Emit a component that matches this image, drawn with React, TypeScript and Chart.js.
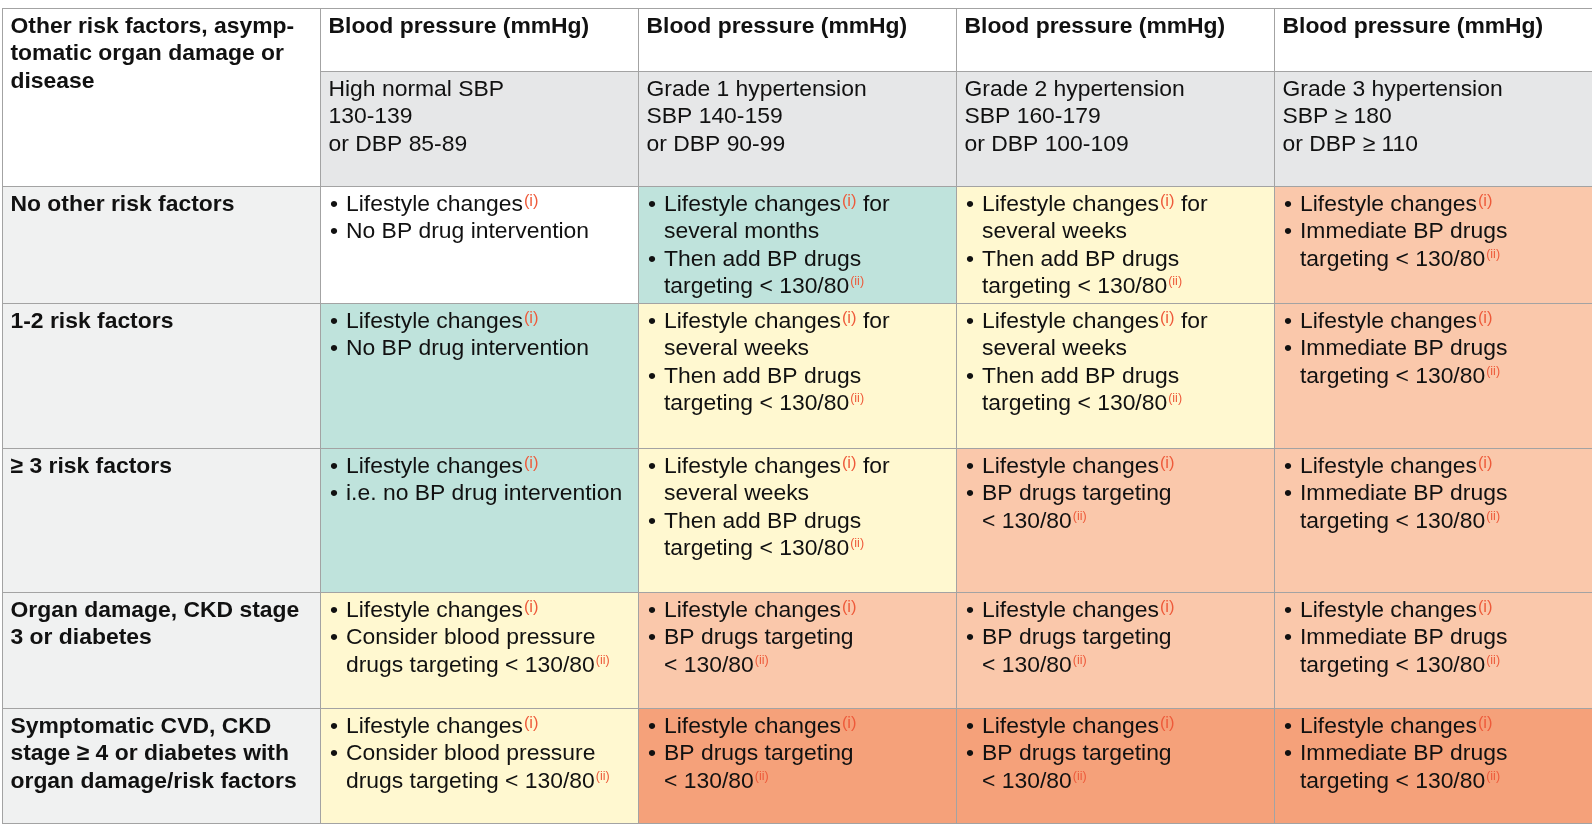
import { useEffect, useRef } from "react";
import { Chart, registerables } from "chart.js";

Chart.register(...registerables);

// ---------- DATA ----------
const columnKeys = ["Risk", "High normal", "Grade 1", "Grade 2", "Grade 3"];
const cornerLabel = ["Other risk factors, asymp-", "tomatic organ damage or", "disease"];
const columnHeaders = [
  "Blood pressure (mmHg)",
  "Blood pressure (mmHg)",
  "Blood pressure (mmHg)",
  "Blood pressure (mmHg)",
];
const bpCategories = [
  ["High normal SBP", "130-139", "or DBP 85-89"],
  ["Grade 1 hypertension", "SBP 140-159", "or DBP 90-99"],
  ["Grade 2 hypertension", "SBP 160-179", "or DBP 100-109"],
  ["Grade 3 hypertension", "SBP ≥ 180", "or DBP ≥ 110"],
];
const riskFactorRows = [
  ["No other risk factors"],
  ["1-2 risk factors"],
  ["≥ 3 risk factors"],
  ["Organ damage, CKD stage", "3 or diabetes"],
  ["Symptomatic CVD, CKD", "stage ≥ 4 or diabetes with", "organ damage/risk factors"],
];
// 0 = no action, 1 = low, 2 = moderate, 3 = high, 4 = very high
const riskLevels = [
  [0, 1, 2, 3],
  [1, 2, 2, 3],
  [1, 2, 3, 3],
  [2, 3, 3, 3],
  [2, 4, 4, 4],
];
const noDrug = [["Lifestyle changes{i}"], ["No BP drug intervention"]];
const noDrugIe = [["Lifestyle changes{i}"], ["i.e. no BP drug intervention"]];
const monthsThenDrugs = [
  ["Lifestyle changes{i} for", "several months"],
  ["Then add BP drugs", "targeting < 130/80{ii}"],
];
const weeksThenDrugs = [
  ["Lifestyle changes{i} for", "several weeks"],
  ["Then add BP drugs", "targeting < 130/80{ii}"],
];
const drugsTargeting = [["Lifestyle changes{i}"], ["BP drugs targeting", "< 130/80{ii}"]];
const immediateDrugs = [["Lifestyle changes{i}"], ["Immediate BP drugs", "targeting < 130/80{ii}"]];
const considerDrugs = [["Lifestyle changes{i}"], ["Consider blood pressure", "drugs targeting < 130/80{ii}"]];
const recommendations = [
  [noDrug, monthsThenDrugs, weeksThenDrugs, immediateDrugs],
  [noDrug, weeksThenDrugs, weeksThenDrugs, immediateDrugs],
  [noDrugIe, weeksThenDrugs, drugsTargeting, immediateDrugs],
  [considerDrugs, drugsTargeting, drugsTargeting, immediateDrugs],
  [considerDrugs, drugsTargeting, drugsTargeting, immediateDrugs],
];

// ---------- LAYOUT / STYLE ----------
const ROW_HEIGHTS = [63, 115, 117, 145, 144, 116, 116];
const LEVEL_COLORS = ["#ffffff", "#bfe3dc", "#fff8d0", "#fac8ab", "#f5a17a"];
const LABEL_BG = "#f0f1f1";
const SUBHEADER_BG = "#e6e7e8";
const HEADER_BG = "#ffffff";
const GRID = "#a3a3a3";
const TEXT = "#111111";
const SUP = "#ee5a3a";
const FAMILY = "'Liberation Sans', Arial, sans-serif";
const FONT = `22.9px ${FAMILY}`;
const BOLD = `bold 22.9px ${FAMILY}`;
const LINE_H = 27.3;
const FIRST_BASE = 25;
const PAD = 8.5;
const BULLET_X = 10;
const BULLET_TEXT_X = 26;

const rowEdges: number[] = [0];
ROW_HEIGHTS.forEach((h) => rowEdges.push(rowEdges[rowEdges.length - 1] + h));
const TOTAL = rowEdges[rowEdges.length - 1];

function drawRich(ctx: CanvasRenderingContext2D, line: string, x: number, y: number, font: string) {
  const parts = line.split(/(\{i+\})/);
  let cx = x;
  for (const p of parts) {
    if (!p) continue;
    const m = p.match(/^\{(i+)\}$/);
    if (m) {
      const isTwo = m[1].length === 2;
      ctx.font = `${isTwo ? 12.5 : 16.5}px ${FAMILY}`;
      ctx.fillStyle = SUP;
      const s = `(${m[1]})`;
      cx += 1;
      ctx.fillText(s, cx, y - (isTwo ? 7.6 : 5.5));
      cx += ctx.measureText(s).width;
    } else {
      ctx.font = font;
      ctx.fillStyle = TEXT;
      ctx.fillText(p, cx, y);
      cx += ctx.measureText(p).width;
    }
  }
}

const textPlugin = {
  id: "tableText",
  afterDatasetsDraw(chart: any) {
    const ctx: CanvasRenderingContext2D = chart.ctx;
    const xs = chart.scales.x;
    const ys = chart.scales.y;
    const colW = xs.getPixelForValue(1) - xs.getPixelForValue(0);
    const left = (c: number) => xs.getPixelForValue(c) - colW / 2;
    const top = (r: number) => ys.getPixelForValue(rowEdges[r]);
    ctx.save();
    ctx.textBaseline = "alphabetic";
    ctx.textAlign = "left";
    const plain = (lines: string[], c: number, r: number, font: string) => {
      lines.forEach((l, i) => drawRich(ctx, l, left(c) + PAD, top(r) + FIRST_BASE + i * LINE_H, font));
    };
    plain(cornerLabel, 0, 0, BOLD);
    columnHeaders.forEach((h, i) => plain([h], i + 1, 0, BOLD));
    bpCategories.forEach((lines, i) => plain(lines, i + 1, 1, FONT));
    riskFactorRows.forEach((lines, r) => plain(lines, 0, r + 2, BOLD));
    recommendations.forEach((row, r) => {
      row.forEach((bullets, c) => {
        let li = 0;
        const x0 = left(c + 1);
        const y0 = top(r + 2) + FIRST_BASE;
        bullets.forEach((bl) => {
          ctx.font = FONT;
          ctx.fillStyle = TEXT;
          ctx.fillText("•", x0 + BULLET_X, y0 + li * LINE_H);
          bl.forEach((l) => {
            drawRich(ctx, l, x0 + BULLET_TEXT_X, y0 + li * LINE_H, FONT);
            li++;
          });
        });
      });
    });
    ctx.restore();
  },
};

export default function App() {
  const ref = useRef<HTMLCanvasElement | null>(null);
  useEffect(() => {
    if (!ref.current) return;
    const span = (a: number, b: number) => [rowEdges[a], rowEdges[b]];
    const datasets: any[] = [];
    datasets.push({
      label: "header",
      data: [span(0, 2), span(0, 1), span(0, 1), span(0, 1), span(0, 1)],
      backgroundColor: [HEADER_BG, HEADER_BG, HEADER_BG, HEADER_BG, HEADER_BG],
    });
    datasets.push({
      label: "bp categories",
      data: [null, span(1, 2), span(1, 2), span(1, 2), span(1, 2)],
      backgroundColor: [SUBHEADER_BG, SUBHEADER_BG, SUBHEADER_BG, SUBHEADER_BG, SUBHEADER_BG],
    });
    riskLevels.forEach((levels, r) => {
      datasets.push({
        label: riskFactorRows[r].join(" "),
        data: [span(r + 2, r + 3), ...levels.map(() => span(r + 2, r + 3))],
        backgroundColor: [LABEL_BG, ...levels.map((l) => LEVEL_COLORS[l])],
      });
    });
    const lastIdx = datasets.length - 1;
    datasets.forEach((d, i) => {
      d.grouped = false;
      d.barPercentage = 1;
      d.categoryPercentage = 1;
      d.borderSkipped = false;
      d.inflateAmount = 0;
      d.borderColor = GRID;
      d.borderWidth = { top: 1, left: 1, right: 0, bottom: i === lastIdx ? 1 : 0 };
    });
    const chart = new Chart(ref.current, {
      type: "bar",
      data: { labels: columnKeys, datasets },
      options: {
        animation: false,
        responsive: false,
        devicePixelRatio: 1,
        layout: { padding: { left: 2, right: 2, top: 8, bottom: 5 } },
        plugins: { legend: { display: false }, tooltip: { enabled: false } },
        events: [],
        scales: {
          x: { type: "category", display: false, offset: true, grid: { display: false } },
          y: { type: "linear", display: false, reverse: true, min: 0, max: TOTAL },
        },
      },
      plugins: [textPlugin],
    });
    return () => chart.destroy();
  }, []);
  return (
    <div style={{ position: "fixed", left: 0, top: 0, width: 1594, height: 829, background: "#fff" }}>
      <canvas ref={ref} width={1594} height={829} style={{ display: "block" }} />
    </div>
  );
}
